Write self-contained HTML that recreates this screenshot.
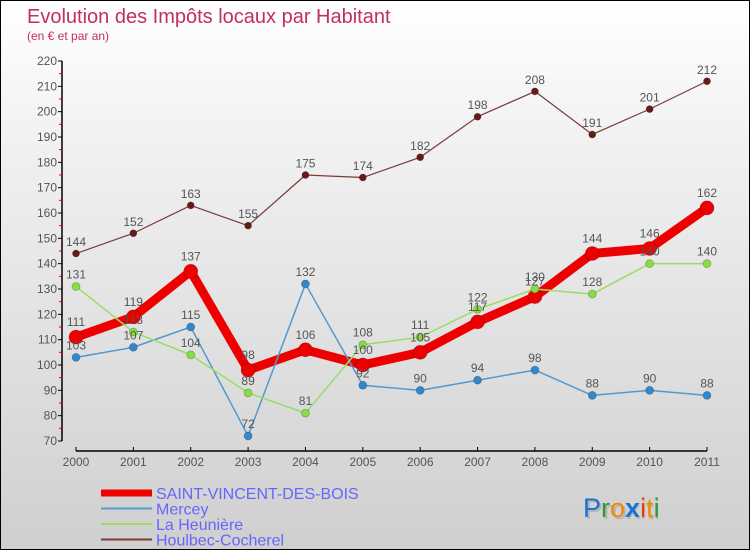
<!DOCTYPE html>
<html><head><meta charset="utf-8"><style>
html,body{margin:0;padding:0}
body{width:750px;height:550px;overflow:hidden;font-family:"Liberation Sans",sans-serif}
#wrap{position:relative;width:748px;height:548px;border:1px solid #000;background:linear-gradient(#ffffff,#f4f4f4 20%,#cfcfcf)}
svg{position:absolute;left:0;top:0}
</style></head><body>
<div id="wrap">
<svg id="chart" width="748" height="548">
<text x="26" y="22" font-size="20" fill="#c0305f">Evolution des Impôts locaux par Habitant</text>
<text x="26" y="39" font-size="12" fill="#c0305f">(en € et par an)</text>
<g id="axes"></g><g id="series"></g><g id="labels"></g>
<g id="legend"></g>
<g font-size="27" font-family="Liberation Sans, sans-serif">
<text x="584" y="518" fill="#999" opacity="0.5">Proxiti</text>
<text x="582" y="516"><tspan fill="#1a73d0">P</tspan><tspan fill="#2a9a3a">r</tspan><tspan fill="#f08a00">o</tspan><tspan fill="#1a73d0" font-weight="bold">x</tspan><tspan fill="#e83a10">i</tspan><tspan fill="#f08a00">t</tspan><tspan fill="#2a9a3a">i</tspan></text>
</g>
</svg></div>
<script>
const years=[2000,2001,2002,2003,2004,2005,2006,2007,2008,2009,2010,2011];
const yTicks=[70,80,90,100,110,120,130,140,150,160,170,180,190,200,210,220];
const svb=[111,119,137,98,106,100,105,117,127,144,146,162];
const mercey=[103,107,115,72,132,92,90,94,98,88,90,88];
const heuniere=[131,113,104,89,81,108,111,122,130,128,140,140];
const houlbec=[144,152,163,155,175,174,182,198,208,191,201,212];
const NS="http://www.w3.org/2000/svg";
function X(i){return 75+i*(706-75)/(years.length-1);}
function Y(v){return 440-(v-70)*(380/150);}
function mk(tag,attrs,parent){const e=document.createElementNS(NS,tag);for(const k in attrs)e.setAttribute(k,attrs[k]);parent.appendChild(e);return e;}
const axes=document.getElementById('axes');
let a=mk('line',{x1:61,y1:Y(220),x2:61,y2:Y(70),stroke:'#000','stroke-width':1.5},axes);


yTicks.forEach(t=>{
 mk('line',{x1:57,y1:Y(t),x2:61,y2:Y(t),stroke:'#000'},axes);
 if(t<220)mk('line',{x1:58,y1:Y(t+5),x2:61,y2:Y(t+5),stroke:'#e00'},axes);
 const tx=mk('text',{x:56,y:Y(t)+4,'text-anchor':'end','font-size':12,fill:'#555'},axes);
 tx.textContent=t;
 
 
});
let xa=mk('line',{x1:X(0),y1:450,x2:X(11),y2:450,stroke:'#000','stroke-width':1.5},axes);


years.forEach((yr,i)=>{
 mk('line',{x1:X(i),y1:446,x2:X(i),y2:450,stroke:'#000'},axes);
 const tx=mk('text',{x:X(i),y:465,'text-anchor':'middle','font-size':12,fill:'#555'},axes);
 tx.textContent=yr;
 
 
});
const S=[
 {d:svb,c:'#ee0000',w:9,r:7,name:'series-saint-vincent-des-bois',label:'SAINT-VINCENT-DES-BOIS',mc:'#ee0000'},
 {d:mercey,c:'#5599cc',w:1.5,r:4,name:'series-mercey',label:'Mercey',mc:'#3388cc'},
 {d:heuniere,c:'#99dd66',w:1.5,r:4,name:'series-la-heuniere',label:'La Heunière',mc:'#88dd44'},
 {d:houlbec,c:'#7a3a3a',w:1.2,r:3.5,name:'series-houlbec-cocherel',label:'Houlbec-Cocherel',mc:'#661a1a'}
];
const sg=document.getElementById('series'),lg=document.getElementById('labels');
S.forEach(s=>{
 const g=mk('g',{},sg);
 
 
 const pl=mk('polyline',{points:s.d.map((v,i)=>X(i)+','+Y(v)).join(' '),fill:'none',stroke:s.c,'stroke-width':s.w,'stroke-linejoin':'round'},g);
 
 
 s.d.forEach((v,i)=>{
  const c=mk('circle',{cx:X(i),cy:Y(v),r:s.r,fill:s.mc,stroke:'rgba(0,0,0,0.25)','stroke-width':0.8},g);
  
  
  const t=mk('text',{x:X(i),y:Y(v)-s.r-4,'text-anchor':'middle','font-size':12,fill:'#555'},lg);
  t.textContent=v;
  
  
 });
});
const L=document.getElementById('legend');
S.forEach((s,i)=>{
 const y=492+i*15.5;
 const ln=mk('line',{x1:100,y1:y,x2:151,y2:y,stroke:s.c,'stroke-width':i==0?7:2},L);
 
 
 const t=mk('text',{x:155,y:y+6,'font-size':16,fill:'#6666ff'},L);
 t.textContent=s.label;
 
 
});
</script>
</body></html>
